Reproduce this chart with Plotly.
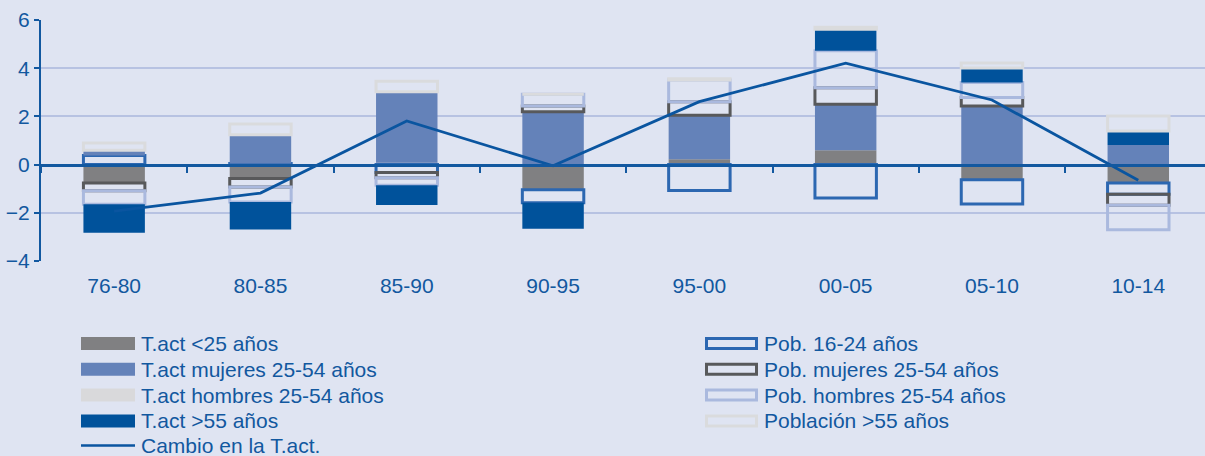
import plotly.graph_objects as go

# Data
categories = ["76-80", "80-85", "85-90", "90-95", "95-00", "00-05", "05-10", "10-14"]

tact_menor25 = [-0.76, -0.58, 0.08, -1.04, 0.22, 0.60, -0.63, -0.76]
pob_16_24 = [0.38, 0.05, -0.33, -0.54, -1.07, -1.39, -1.00, -0.47]
tact_mujeres = [0.22, 1.19, 2.94, 2.19, 1.83, 1.90, 2.43, 0.81]
pob_mujeres = [-0.33, -0.35, -0.22, 0.24, 0.56, 0.69, 0.35, -0.46]
tact_hombres = [0.0, 0.0, 0.0, 0.0, 0.0, 0.0, 0.0, 0.0]
pob_hombres = [-0.56, -0.62, -0.31, 0.49, 0.90, 1.53, 0.63, -1.01]
tact_mayor55 = [-1.18, -1.14, -0.82, -1.08, 0.0, 0.90, 0.60, 0.58]
pob_mayor55 = [0.30, 0.44, 0.44, 0.0, 0.05, 0.08, 0.21, 0.63]
cambio_tact = [-1.93, -1.18, 1.81, -0.05, 2.61, 4.21, 2.68, -0.65]

BG = "#dfe4f2"
GRID = "#b7c2e2"
AXIS = "#1258a0"
TEXT = "#12589f"
FONT = "Liberation Sans, Arial, sans-serif"
FSIZE = 21

# (name, values, colour, filled?)
series = [
    ("T.act <25 años", tact_menor25, "#808082", True),
    ("Pob. 16-24 años", pob_16_24, "#2c67b1", False),
    ("T.act mujeres 25-54 años", tact_mujeres, "#6482b9", True),
    ("Pob. mujeres 25-54 años", pob_mujeres, "#58595b", False),
    ("T.act hombres 25-54 años", tact_hombres, "#d9d9db", True),
    ("Pob. hombres 25-54 años", pob_hombres, "#aab9de", False),
    ("T.act >55 años", tact_mayor55, "#00529b", True),
    ("Población >55 años", pob_mayor55, "#dadbdd", False),
]

fig = go.Figure()

for name, vals, col, filled in series:
    if filled:
        marker = dict(color=col, line=dict(width=0))
    else:
        marker = dict(color="rgba(0,0,0,0)", line=dict(color=col, width=3))
    fig.add_trace(go.Bar(x=categories, y=vals, name=name, marker=marker,
                         xaxis="x", yaxis="y"))

fig.add_trace(go.Scatter(
    x=categories, y=cambio_tact, name="Cambio en la T.act.",
    mode="lines", line=dict(color="#0a55a0", width=2.8),
    xaxis="x2", yaxis="y"
))

xrange = [-0.5, 7.456]

fig.update_layout(
    width=1205, height=456,
    margin=dict(l=41, r=0, t=20, b=195),
    paper_bgcolor=BG, plot_bgcolor=BG,
    barmode="relative", bargap=0.58,
    showlegend=False,
    font=dict(family=FONT, size=FSIZE, color=TEXT),
    xaxis=dict(
        type="category", categoryarray=categories, range=xrange,
        showgrid=False, showline=False, ticks="", zeroline=False,
        tickfont=dict(size=FSIZE, color=TEXT), ticklabelstandoff=10,
    ),
    xaxis2=dict(
        type="category", categoryarray=categories, range=xrange,
        overlaying="x", anchor="free", position=0.4,
        showgrid=False, showline=True, linecolor=AXIS, linewidth=2.5,
        ticks="outside", ticklen=7, tickwidth=2, tickcolor=AXIS,
        tickson="boundaries", showticklabels=False, zeroline=False,
    ),
    yaxis=dict(
        range=[-4, 6], dtick=2, tick0=0,
        showgrid=True, gridcolor=GRID, gridwidth=1.5,
        zeroline=False, showline=True, linecolor=AXIS, linewidth=2,
        ticks="outside", ticklen=5, tickwidth=2, tickcolor=AXIS,
        tickfont=dict(size=FSIZE, color=TEXT),
    ),
)

# Legend drawn by hand: two columns of wide swatches, as in the original
def px_x(p):
    return (p - 41) / 1164


def px_y(p):
    return (261 - p) / 241


row_y = [343.5, 369.3, 395.1, 420.9, 445.5]
col_sw = [(81, 135), (705, 758)]
col_txt = [139, 762]

for i, (name, vals, col, filled) in enumerate(series):
    c, r = i % 2, i // 2
    x0, x1 = col_sw[c]
    yc = row_y[r]
    if filled:
        fig.add_shape(type="rect", xref="paper", yref="paper",
                      x0=px_x(x0), x1=px_x(x1), y0=px_y(yc - 6.5), y1=px_y(yc + 6.5),
                      fillcolor=col, line=dict(width=0))
    else:
        fig.add_shape(type="rect", xref="paper", yref="paper",
                      x0=px_x(x0 + 1.5), x1=px_x(x1 - 1.5), y0=px_y(yc - 5), y1=px_y(yc + 5),
                      fillcolor="rgba(0,0,0,0)", line=dict(color=col, width=3))
    fig.add_annotation(text=name, xref="paper", yref="paper",
                       x=px_x(col_txt[c]), y=px_y(yc), xanchor="left", yanchor="middle",
                       showarrow=False, font=dict(size=FSIZE, color=TEXT, family=FONT))

fig.add_shape(type="line", xref="paper", yref="paper",
              x0=px_x(81), x1=px_x(135), y0=px_y(row_y[4]), y1=px_y(row_y[4]),
              line=dict(color="#0a55a0", width=2.5))
fig.add_annotation(text="Cambio en la T.act.", xref="paper", yref="paper",
                   x=px_x(139), y=px_y(row_y[4]), xanchor="left", yanchor="middle",
                   showarrow=False, font=dict(size=FSIZE, color=TEXT, family=FONT))

fig.write_html("out.html", config={"displayModeBar": False},
               post_script="document.body.style.margin='0';")
